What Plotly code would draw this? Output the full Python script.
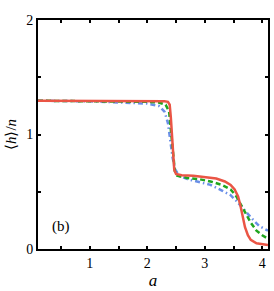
import plotly.graph_objects as go

# Red solid
a_red = [0.1, 1.0, 2.0, 2.3, 2.36, 2.39, 2.41, 2.43, 2.45, 2.47, 2.5, 2.6, 2.8, 3.0, 3.2, 3.35, 3.45, 3.52, 3.58, 3.62, 3.66, 3.70, 3.75, 3.8, 3.9, 4.0, 4.1]
h_red = [1.295, 1.295, 1.293, 1.29, 1.285, 1.26, 1.15, 0.98, 0.80, 0.69, 0.655, 0.645, 0.64, 0.63, 0.615, 0.59, 0.56, 0.52, 0.46, 0.38, 0.28, 0.19, 0.12, 0.08, 0.05, 0.04, 0.035]

# Green dashed
a_green = [0.1, 1.5, 2.0, 2.2, 2.32, 2.38, 2.42, 2.45, 2.48, 2.52, 2.7, 2.9, 3.1, 3.3, 3.45, 3.55, 3.65, 3.72, 3.8, 3.9, 4.0, 4.1]
h_green = [1.295, 1.29, 1.285, 1.28, 1.26, 1.2, 1.0, 0.8, 0.68, 0.64, 0.62, 0.61, 0.59, 0.56, 0.52, 0.46, 0.37, 0.30, 0.23, 0.16, 0.12, 0.09]

# Blue dash-dot
a_blue = [0.1, 1.0, 1.5, 2.0, 2.2, 2.3, 2.36, 2.4, 2.44, 2.48, 2.55, 2.7, 2.9, 3.1, 3.3, 3.45, 3.55, 3.65, 3.75, 3.85, 3.95, 4.05, 4.1]
h_blue = [1.295, 1.29, 1.28, 1.27, 1.25, 1.2, 1.1, 0.95, 0.8, 0.7, 0.64, 0.61, 0.585, 0.56, 0.51, 0.47, 0.42, 0.36, 0.30, 0.25, 0.20, 0.17, 0.16]

x_tickvals = [0.5, 1, 1.5, 2, 2.5, 3, 3.5, 4]
x_ticktext = ["", "1", "", "2", "", "3", "", "4"]
y_tickvals = [0, 0.5, 1, 1.5, 2]
y_ticktext = ["0", "", "1", "", "2"]

fig = go.Figure()
fig.add_trace(go.Scatter(x=a_blue, y=h_blue, mode="lines",
                         line=dict(color="#6A8FE8", width=2.5, dash="5px,3px,1.5px,3px"), showlegend=False))
fig.add_trace(go.Scatter(x=a_green, y=h_green, mode="lines",
                         line=dict(color="#1FA51F", width=2.5, dash="5px,3px"), showlegend=False))
fig.add_trace(go.Scatter(x=a_red, y=h_red, mode="lines",
                         line=dict(color="#EA5545", width=2.5), showlegend=False))

font_serif = "Liberation Serif, Times New Roman, serif"

fig.add_annotation(x=0.5, y=0.2, text="(b)", showarrow=False,
                   font=dict(family=font_serif, size=15, color="black"))

fig.update_layout(
    width=274, height=291,
    margin=dict(l=38, r=4, t=20, b=38),
    paper_bgcolor="white", plot_bgcolor="white",
    font=dict(family=font_serif, size=14, color="black"),
    xaxis=dict(range=[0.1, 4.1], tickvals=x_tickvals, ticktext=x_ticktext,
               ticks="inside", ticklen=3, tickwidth=1.5, tickcolor="black",
               showline=True, linecolor="black", linewidth=2, mirror="ticks",
               showgrid=False, zeroline=False,
               title=dict(text="<i>a</i>", font=dict(family=font_serif, size=17), standoff=4)),
    yaxis=dict(range=[0, 2], tickvals=y_tickvals, ticktext=y_ticktext,
               ticks="inside", ticklen=3, tickwidth=1.5, tickcolor="black",
               showline=True, linecolor="black", linewidth=2, mirror="ticks",
               showgrid=False, zeroline=False,
               title=dict(text="⟨<i>h</i>⟩/<i>n</i>", font=dict(family=font_serif, size=15), standoff=6)),
)

fig.write_html("out.html", config={"displayModeBar": False},
               post_script="document.body.style.margin='0';document.body.style.padding='0';document.documentElement.style.overflow='hidden';")
